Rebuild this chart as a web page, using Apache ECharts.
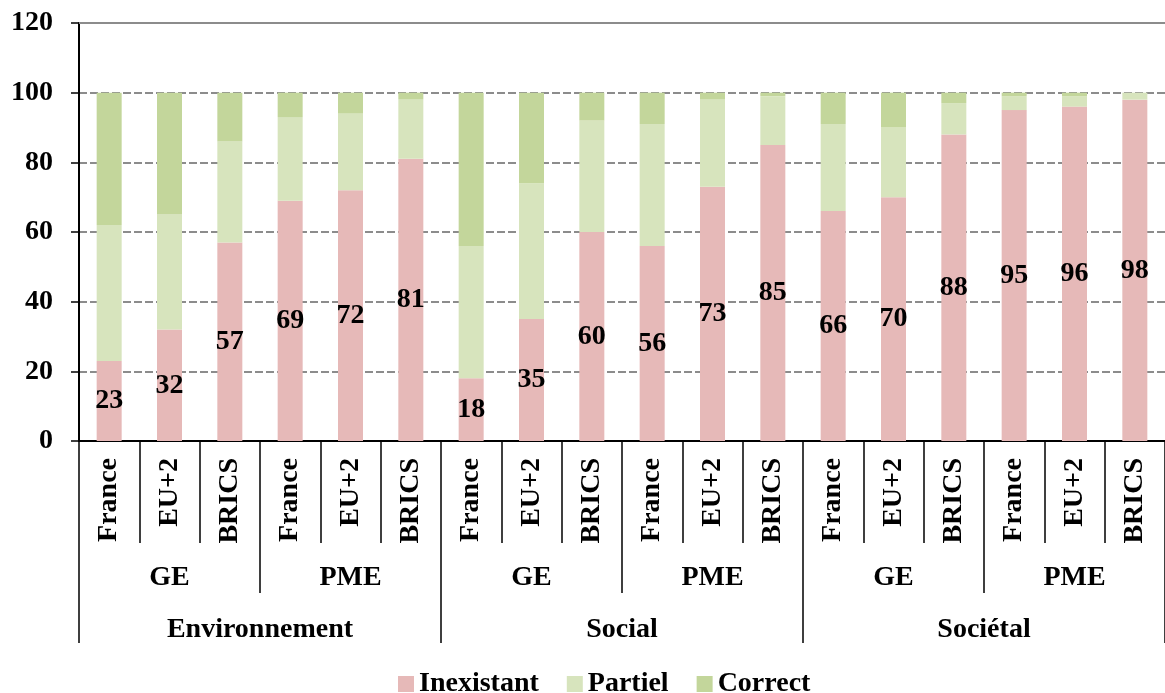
<!DOCTYPE html>
<html>
<head>
<meta charset="utf-8">
<script src="https://cdn.jsdelivr.net/npm/echarts@6/dist/echarts.min.js"></script>
<style>html,body{margin:0;padding:0;background:#fff;}#c{width:1165px;height:693px;}</style>
</head>
<body>
<div id="c"></div>
<script>
const countries = ['France','EU+2','BRICS','France','EU+2','BRICS','France','EU+2','BRICS','France','EU+2','BRICS','France','EU+2','BRICS','France','EU+2','BRICS'];
const sizes = ['GE','PME','GE','PME','GE','PME'];
const domains = ['Environnement','Social','Sociétal'];
const inexistant = [23,32,57,69,72,81,18,35,60,56,73,85,66,70,88,95,96,98];
const partiel    = [39,33,29,24,22,17,38,39,32,35,25,14,25,20,9,4,3,2];
const correct    = [38,35,14,7,6,2,44,26,8,9,2,1,9,10,3,1,1,0];
const yTicks = [0,20,40,60,80,100,120];

const FONT = '"Liberation Serif", serif';
const FS = 28;
const txt = {fontFamily: FONT, fontWeight: 'bold', fontSize: FS, color: '#000'};

const chart = echarts.init(document.getElementById('c'), null, {renderer: 'canvas'});
chart.setOption({
  animation: false,
  backgroundColor: '#fff',
  grid: {left: 79, top: 23, width: 1092, height: 418, containLabel: false},
  legend: {
    left: 393, top: 665,
    itemWidth: 16, itemHeight: 16, itemGap: 28,
    icon: 'rect',
    textStyle: Object.assign({}, txt, {padding: [0,0,0,0]}),
    data: ['Inexistant','Partiel','Correct']
  },
  xAxis: [
    {
      type: 'category', data: countries, position: 'bottom',
      axisLine: {show: true, lineStyle: {color: '#000', width: 2}},
      axisTick: {show: true, interval: 0, length: 102, lineStyle: {color: '#000', width: 1.5}},
      axisLabel: Object.assign({}, txt, {interval: 0, rotate: 90, margin: 17})
    },
    {
      type: 'category', data: sizes, position: 'bottom', gridIndex: 0,
      axisLine: {show: false},
      axisTick: {show: true, interval: 0, length: 152, lineStyle: {color: '#000', width: 1.5}},
      axisLabel: Object.assign({}, txt, {interval: 0, margin: 123})
    },
    {
      type: 'category', data: domains, position: 'bottom', gridIndex: 0,
      axisLine: {show: false},
      axisTick: {show: true, interval: 0, length: 202, lineStyle: {color: '#000', width: 1.5}},
      axisLabel: Object.assign({}, txt, {interval: 0, margin: 175})
    }
  ],
  yAxis: {
    type: 'value', min: yTicks[0], max: yTicks[yTicks.length-1], interval: 20,
    axisLine: {show: true, lineStyle: {color: '#000', width: 2}},
    axisTick: {show: true, length: 8, lineStyle: {color: '#000', width: 1.5}},
    axisLabel: Object.assign({}, txt, {margin: 26}),
    splitLine: {show: true, lineStyle: {color: '#8c8c8c', width: 2, type: [8,3]}}
  },
  series: [
    {
      name: 'Inexistant', type: 'bar', stack: 'a', xAxisIndex: 0, barWidth: 25,
      itemStyle: {color: '#E6B9B8'},
      label: Object.assign({show: true, position: 'inside'}, txt),
      data: inexistant,
      markLine: {
        silent: true, symbol: 'none', label: {show: false},
        lineStyle: {color: '#8c8c8c', width: 2, type: 'solid'},
        data: [{yAxis: yTicks[yTicks.length-1]}]
      }
    },
    {
      name: 'Partiel', type: 'bar', stack: 'a', xAxisIndex: 0, barWidth: 25,
      itemStyle: {color: '#D7E4BD'},
      data: partiel
    },
    {
      name: 'Correct', type: 'bar', stack: 'a', xAxisIndex: 0, barWidth: 25,
      itemStyle: {color: '#C3D69B'},
      data: correct
    }
  ]
});
</script>
</body>
</html>
